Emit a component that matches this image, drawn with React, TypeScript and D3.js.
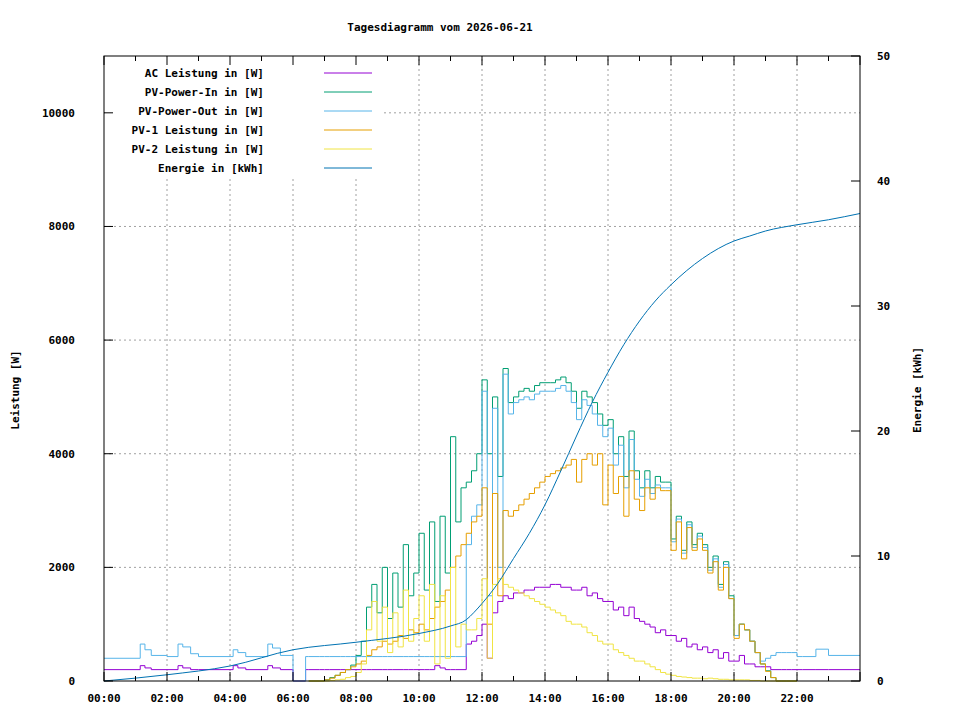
import React from "react";
import * as d3 from "d3";

const title = "Tagesdiagramm vom 2026-06-21";
const legendLabels = ["AC Leistung in [W]", "PV-Power-In in [W]", "PV-Power-Out in [W]", "PV-1 Leistung in [W]", "PV-2 Leistung in [W]", "Energie in [kWh]"];
const colors = ["#9400d3", "#009e73", "#56b4e9", "#e69f00", "#f0e442", "#0072b2"];
const xTickLabels = ["00:00", "02:00", "04:00", "06:00", "08:00", "10:00", "12:00", "14:00", "16:00", "18:00", "20:00", "22:00"];
const yTicks = [0, 2000, 4000, 6000, 8000, 10000];
const y2Ticks = [0, 10, 20, 30, 40, 50];

// night (hours)
const earlyTimes = [0, 1.15, 1.3, 1.5, 2.0, 2.35, 2.5, 2.75, 3.0, 4.1, 4.25, 4.5, 5.2, 5.35, 5.6, 6.0, 6.4];
const blueEarly = [400, 650, 550, 450, 430, 650, 600, 480, 430, 550, 500, 430, 650, 580, 450, 0, 430];
const acEarly = [200, 270, 230, 200, 200, 270, 230, 200, 200, 270, 230, 200, 270, 230, 200, 0, 200];
const lateTimes = [22.17, 22.6, 23.0, 24.0];
const blueLate = [430, 560, 450, 450];
const acLate = [200, 200, 200, 200];

// day: 06:30 .. 22:00 every 10 minutes
const dayStart = 6.5;
const pvIn = [0, 0, 0,
  20, 60, 100, 150, 200, 280,
  450, 700, 1300, 1700, 1200, 2000,
  1100, 1900, 1300, 2400, 1500, 1900,
  2600, 1600, 2800, 1400, 2900, 1900,
  4300, 2800, 3400, 3500, 3700, 4000,
  5300, 4000, 5000, 3600, 5500, 4900,
  5000, 5100, 5150, 5100, 5200, 5250,
  5250, 5250, 5300, 5350, 5250, 5100,
  4800, 5100, 5000, 4900, 4700, 4500,
  4600, 4000, 4300, 3600, 4400, 3700,
  3400, 3700, 3400, 3600, 3500, 3500,
  2500, 2900, 2300, 2800, 2400, 2600,
  2400, 2000, 2200, 1700, 2100, 1500,
  800, 1000, 900, 700, 500, 300,
  180, 60, 0, 0, 0, 0,
  0];
const pvOut = [430, 430, 430,
  430, 430, 430, 430, 430, 430,
  430, 430, 430, 430, 430, 430,
  430, 430, 430, 430, 430, 430,
  430, 430, 430, 430, 430, 430,
  430, 430, 430, 2400, 2900, 3100,
  5100, 1500, 4800, 2000, 5400, 4700,
  4900, 4950, 5000, 4950, 5050, 5100,
  5100, 5100, 5150, 5200, 5100, 4900,
  4600, 4950, 4850, 4700, 4500, 4300,
  4450, 3800, 4150, 3400, 4250, 3550,
  3250, 3550, 3300, 3450, 3400, 3400,
  2450, 2850, 2250, 2750, 2350, 2550,
  2350, 1950, 2150, 1650, 2050, 1450,
  800, 1000, 900, 700, 500, 350,
  400, 450, 500, 500, 500, 500,
  430];
const pv1 = [0, 0, 0,
  20, 50, 100, 150, 200, 250,
  300, 350, 450, 550, 600, 700,
  650, 700, 800, 750, 900, 850,
  1000, 900, 1100, 1300, 1400, 1600,
  2000, 2200, 2400, 2600, 2800, 2900,
  3400, 1000, 3300, 1500, 3000, 2900,
  3000, 3100, 3200, 3300, 3400, 3500,
  3600, 3650, 3700, 3750, 3800, 3900,
  3500, 3900, 4000, 3800, 4000, 3100,
  3800, 3300, 3600, 2900, 3700, 3200,
  3000, 3400, 3200, 3400, 3350, 3350,
  2300, 2800, 2150, 2700, 2300, 2500,
  2300, 1900, 2100, 1600, 2000, 1450,
  750, 1000, 900, 700, 500, 300,
  170, 60, 0, 0, 0, 0,
  0];
const pv2 = [0, 0, 0,
  0, 10, 20, 30, 60, 80,
  150, 300, 900, 1400, 700, 1300,
  500, 1200, 600, 1600, 700, 1100,
  1500, 700, 1700, 300, 1500, 400,
  2000, 600, 1000, 900, 900, 1100,
  1800, 400, 1700, 1800, 1700, 1650,
  1600, 1550, 1500, 1450, 1400, 1350,
  1300, 1250, 1200, 1150, 1050, 1000,
  1000, 950, 850, 800, 700, 650,
  650, 550, 500, 450, 400, 350,
  350, 300, 250, 200, 150, 120,
  100, 80, 70, 60, 50, 50,
  40, 50, 40, 30, 30, 20,
  20, 20, 20, 10, 10, 0,
  0, 0, 0, 0, 0, 0,
  0];
const acDay = [200, 200, 200,
  200, 200, 200, 200, 200, 200,
  200, 200, 200, 200, 200, 200,
  200, 200, 200, 200, 200, 200,
  200, 200, 200, 270, 230, 200,
  200, 200, 200, 650, 700, 800,
  1000, 400, 1200, 1400, 1500, 1450,
  1550, 1550, 1600, 1600, 1650, 1650,
  1650, 1700, 1700, 1650, 1650, 1600,
  1600, 1650, 1500, 1550, 1450, 1400,
  1400, 1250, 1300, 1150, 1300, 1100,
  1050, 1000, 950, 850, 900, 800,
  800, 700, 750, 600, 650, 550,
  600, 500, 550, 400, 500, 350,
  350, 450, 300, 300, 250, 250,
  250, 200, 200, 200, 200, 200,
  200];

const energyTimes = [0, 2, 4, 6, 8, 10, 11, 11.5, 11.75, 12, 12.5, 13, 13.5, 14, 14.5, 15, 15.5, 16, 16.5, 17, 17.5, 18, 19, 20, 20.5, 21, 22, 23, 24];
const energyValues = [0, 0.5, 1.2, 2.5, 3.1, 3.8, 4.4, 4.9, 5.5, 6.2, 7.8, 9.8, 11.8, 14.1, 16.8, 19.6, 22.3, 24.7, 26.9, 28.8, 30.4, 31.7, 33.8, 35.2, 35.6, 36.0, 36.5, 36.9, 37.4];

type P = [number, number];

export default function App() {
  const W = 960, H = 720;
  const L = 104, R = 860, T = 56, B = 681;
  const x = d3.scaleLinear().domain([0, 24]).range([L, R]);
  const y = d3.scaleLinear().domain([0, 11000]).range([B, T]);
  const y2 = d3.scaleLinear().domain([0, 50]).range([B, T]);
  const dayTimes = pvIn.map((_, i) => dayStart + i / 6);
  const mk = (ts: number[], vs: number[]): P[] => ts.map((t, i) => [t, vs[i]]);
  const line = d3.line<P>().x(d => x(d[0])).y(d => y(d[1])).curve(d3.curveStepAfter);
  const line2 = d3.line<P>().x(d => x(d[0])).y(d => y2(d[1])).curve(d3.curveMonotoneX);
  const full = (early: number[], day: number[], late: number[]) =>
    [...mk(earlyTimes, early), ...mk(dayTimes, day), ...mk(lateTimes, late)];
  const series: P[][] = [
    full(acEarly, acDay, acLate),
    mk(dayTimes, pvIn),
    full(blueEarly, pvOut, blueLate),
    mk(dayTimes, pv1),
    mk(dayTimes, pv2),
  ];
  const font = "'DejaVu Sans Mono', monospace";
  const legY0 = 73, legStep = 19;
  const hours = d3.range(0, 25, 1);
  const xMajor = d3.range(0, 24, 2);
  return (
    <svg width={W} height={H} style={{ position: "absolute", left: 0, top: 0, background: "#fff" }} fontFamily={font} fontSize={11} fontWeight="bold">
      <rect width={W} height={H} fill="#fff" />
      <text x={440} y={31} textAnchor="middle">{title}</text>
      <g stroke="#a0a0a0" strokeDasharray="2,3" strokeWidth={1}>
        {xMajor.slice(1).map(h => <line key={"gx" + h} x1={x(h)} x2={x(h)} y1={B} y2={T} />)}
        {yTicks.slice(1).map(v => <line key={"gy" + v} x1={L} x2={R} y1={y(v)} y2={y(v)} />)}
      </g>
      <rect x={L + 1} y={T + 1} width={276} height={122} fill="#fff" />
      {series.map((s, i) => <path key={i} d={line(s) || ""} fill="none" stroke={colors[i]} strokeWidth={1} />)}
      <path d={line2(mk(energyTimes, energyValues)) || ""} fill="none" stroke={colors[5]} strokeWidth={1} />
      <rect x={L} y={T} width={R - L} height={B - T} fill="none" stroke="#000" strokeWidth={1} />
      <g stroke="#000">
        {hours.map(h => {
          const len = h % 2 === 0 ? 9 : 5;
          return <g key={"tx" + h}>
            <line x1={x(h)} x2={x(h)} y1={B} y2={B - len} />
            <line x1={x(h)} x2={x(h)} y1={T} y2={T + len} />
          </g>;
        })}
        {yTicks.map(v => <line key={"ty" + v} x1={L} x2={L + 9} y1={y(v)} y2={y(v)} />)}
        {y2Ticks.map(v => <line key={"ty2" + v} x1={R} x2={R - 9} y1={y2(v)} y2={y2(v)} />)}
      </g>
      {xTickLabels.map((t, i) => <text key={t} x={x(i * 2)} y={702} textAnchor="middle">{t}</text>)}
      {yTicks.map(v => <text key={"l" + v} x={75} y={y(v) + 4} textAnchor="end">{v}</text>)}
      {y2Ticks.map(v => <text key={"r" + v} x={877} y={y2(v) + 4}>{v}</text>)}
      <text transform={`translate(19,390) rotate(-90)`} textAnchor="middle">Leistung [W]</text>
      <text transform={`translate(921,390) rotate(-90)`} textAnchor="middle">Energie [kWh]</text>
      {legendLabels.map((lab, i) => (
        <g key={lab}>
          <text x={264} y={legY0 + i * legStep + 4} textAnchor="end">{lab}</text>
          <line x1={324} x2={372} y1={legY0 + i * legStep} y2={legY0 + i * legStep} stroke={colors[i]} />
        </g>
      ))}
    </svg>
  );
}
